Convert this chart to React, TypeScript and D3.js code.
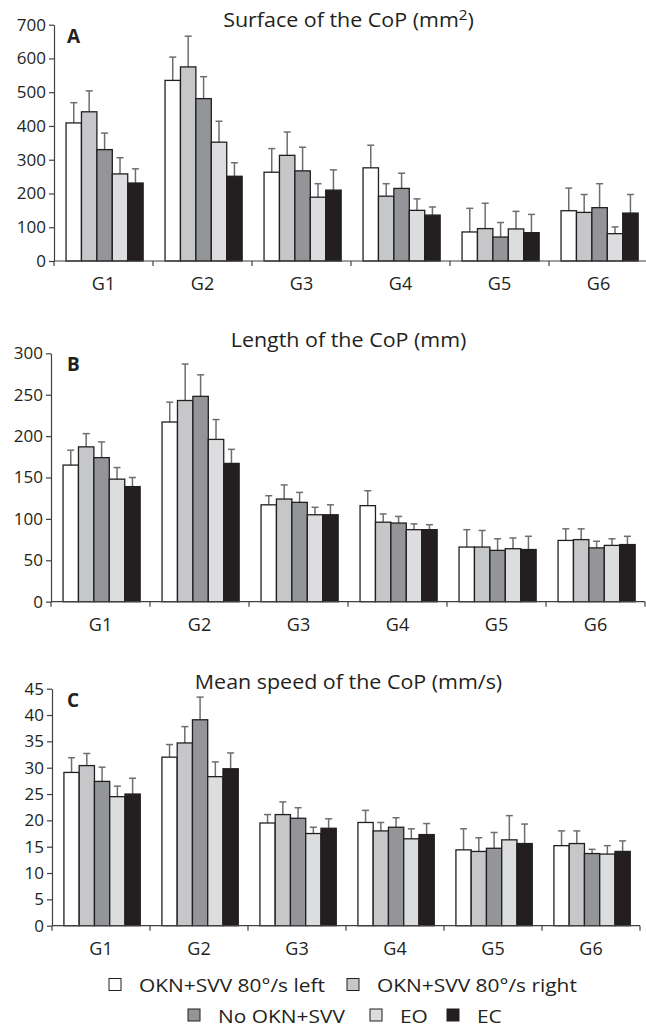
import React, { useRef, useEffect } from 'react';
import * as d3 from 'd3';

const GROUPS = ['G1', 'G2', 'G3', 'G4', 'G5', 'G6'];
const CONDITIONS = ['OKN+SVV 80°/s left', 'OKN+SVV 80°/s right', 'No OKN+SVV', 'EO', 'EC'];
const CONDITION_COLORS = ['#ffffff', '#c6c7c9', '#939598', '#dcddde', '#231f20'];

// rows = groups G1..G6, columns = conditions (left, right, no OKN, EO, EC)
const SURFACE_MEAN = [
  [409, 442, 330, 258, 231],
  [535, 575, 481, 352, 251],
  [263, 313, 267, 189, 210],
  [276, 192, 215, 150, 136],
  [86, 96, 71, 95, 84],
  [149, 144, 158, 81, 142],
];
const SURFACE_ERR = [
  [60, 62, 49, 48, 42],
  [69, 91, 65, 62, 40],
  [70, 69, 70, 40, 60],
  [67, 37, 45, 34, 24],
  [70, 75, 43, 52, 54],
  [67, 53, 71, 20, 55],
];
const SURFACE_TICKS = [0, 100, 200, 300, 400, 500, 600, 700];

const LENGTH_MEAN = [
  [165, 187, 174, 148, 139],
  [217, 243, 248, 196, 167],
  [117, 124, 120, 105, 105],
  [116, 96, 95, 87, 87],
  [66, 66, 62, 64, 63],
  [74, 75, 65, 68, 69],
];
const LENGTH_ERR = [
  [18, 16, 19, 14, 11],
  [24, 44, 26, 24, 17],
  [11, 17, 12, 9, 12],
  [18, 10, 8, 7, 6],
  [21, 20, 14, 13, 16],
  [14, 13, 8, 8, 10],
];
const LENGTH_TICKS = [0, 50, 100, 150, 200, 250, 300];

const SPEED_MEAN = [
  [29.1, 30.4, 27.4, 24.5, 25.0],
  [32.0, 34.7, 39.1, 28.3, 29.8],
  [19.5, 21.1, 20.4, 17.5, 18.5],
  [19.6, 18.0, 18.7, 16.5, 17.3],
  [14.4, 14.1, 14.7, 16.3, 15.6],
  [15.2, 15.6, 13.7, 13.6, 14.1],
];
const SPEED_ERR = [
  [2.8, 2.3, 2.7, 2.0, 3.0],
  [2.4, 3.1, 4.3, 2.8, 3.0],
  [1.6, 2.4, 2.0, 1.2, 1.8],
  [2.3, 1.6, 1.8, 1.9, 2.1],
  [4.0, 2.6, 3.0, 4.6, 3.7],
  [2.8, 2.4, 0.8, 1.6, 2.0],
];
const SPEED_TICKS = [0, 5, 10, 15, 20, 25, 30, 35, 40, 45];

const WIDTH = 646;
const HEIGHT = 1029;
const FONT = '"Open Sans", "Noto Sans", sans-serif';
const INK = '#231f20';
const AXIS = '#404041';
const STRETCH = 1.1; // the source font is set a bit wider than Open Sans

interface Panel {
  letter: string;
  title: string;
  unitSup?: string;
  mean: number[][];
  err: number[][];
  ticks: number[];
  x0: number;
  x1: number;
  yTop: number;
  yBot: number;
  titleY: number;
}

const PANELS: Panel[] = [
  { letter: 'A', title: 'Surface of the CoP (mm', unitSup: '2', mean: SURFACE_MEAN, err: SURFACE_ERR,
    ticks: SURFACE_TICKS, x0: 54, x1: 648, yTop: 24.7, yBot: 261, titleY: 27 },
  { letter: 'B', title: 'Length of the CoP (mm)', mean: LENGTH_MEAN, err: LENGTH_ERR,
    ticks: LENGTH_TICKS, x0: 51, x1: 645, yTop: 353.3, yBot: 601.7, titleY: 346.5 },
  { letter: 'C', title: 'Mean speed of the CoP (mm/s)', mean: SPEED_MEAN, err: SPEED_ERR,
    ticks: SPEED_TICKS, x0: 52, x1: 640, yTop: 688.7, yBot: 925.7, titleY: 689 },
];

type Sel = d3.Selection<SVGSVGElement, unknown, null, undefined>;

function drawPanel(svg: Sel, p: Panel) {
  const g = svg.append('g');
  const maxV = p.ticks[p.ticks.length - 1];

  const y = d3.scaleLinear().domain([0, maxV]).range([p.yBot, p.yTop]);
  const xg = d3.scaleBand<string>().domain(GROUPS).range([p.x0, p.x1]).padding(0);
  const xc = d3.scaleBand<string>()
    .domain(CONDITIONS)
    .range([0, xg.bandwidth()])
    .paddingInner(0)
    .paddingOuter(0.71)
    .align(0.55);

  // bars with upper error bars
  GROUPS.forEach((grp, gi) => {
    const gx = xg(grp)!;
    CONDITIONS.forEach((cond, ci) => {
      const v = p.mean[gi][ci];
      const bx = gx + xc(cond)!;
      const bw = xc.bandwidth();
      const cx = bx + bw / 2;
      const top = y(v + p.err[gi][ci]);

      g.append('line')
        .attr('x1', cx).attr('x2', cx)
        .attr('y1', y(v)).attr('y2', top)
        .attr('stroke', '#6d6e71')
        .attr('stroke-width', 1.5);
      g.append('line')
        .attr('x1', cx - 3.5).attr('x2', cx + 3.5)
        .attr('y1', top).attr('y2', top)
        .attr('stroke', '#6d6e71')
        .attr('stroke-width', 1.5);

      g.append('rect')
        .attr('x', bx)
        .attr('y', y(v))
        .attr('width', bw)
        .attr('height', p.yBot - y(v))
        .attr('fill', CONDITION_COLORS[ci])
        .attr('stroke', INK)
        .attr('stroke-width', 1.3);
    });
  });

  // y axis
  const yAxis = g.append('g')
    .attr('transform', `translate(${p.x0},0)`)
    .call(d3.axisLeft(y).tickValues(p.ticks).tickSize(5).tickSizeOuter(0).tickPadding(3));
  yAxis.select('.domain').attr('stroke', AXIS).attr('stroke-width', 1.2);
  yAxis.selectAll('.tick line').attr('stroke', AXIS).attr('stroke-width', 1.2);
  yAxis.selectAll('.tick text')
    .attr('font-family', FONT)
    .attr('font-size', 17)
    .attr('fill', INK);

  // x axis: ticks on group boundaries, labels in the middle
  g.append('line')
    .attr('x1', p.x0).attr('x2', p.x1)
    .attr('y1', p.yBot).attr('y2', p.yBot)
    .attr('stroke', AXIS)
    .attr('stroke-width', 1.2);
  d3.range(GROUPS.length + 1).forEach((i) => {
    const tx = p.x0 + i * xg.step();
    g.append('line')
      .attr('x1', tx).attr('x2', tx)
      .attr('y1', p.yBot).attr('y2', p.yBot + 5)
      .attr('stroke', AXIS)
      .attr('stroke-width', 1.2);
  });
  GROUPS.forEach((grp) => {
    g.append('text')
      .attr('x', xg(grp)! + xg.bandwidth() / 2)
      .attr('y', p.yBot + 29)
      .attr('text-anchor', 'middle')
      .attr('font-family', FONT)
      .attr('font-size', 18)
      .attr('fill', INK)
      .text(grp);
  });

  // title
  const t = g.append('text')
    .attr('transform', `translate(348.5,${p.titleY}) scale(${STRETCH},1)`)
    .attr('text-anchor', 'middle')
    .attr('font-family', FONT)
    .attr('font-size', 19.5)
    .attr('fill', INK)
    .text(p.title);
  if (p.unitSup) {
    t.append('tspan').attr('font-size', 14).attr('dy', -7).text(p.unitSup);
    t.append('tspan').attr('dy', 7).text(')');
  }

  // panel letter
  g.append('text')
    .attr('x', 67)
    .attr('y', p.yTop + 18)
    .attr('font-family', FONT)
    .attr('font-size', 19)
    .attr('font-weight', 700)
    .attr('fill', INK)
    .text(p.letter);
}

function drawLegend(svg: Sel) {
  // [condition index, square x, row baseline]
  const items: [number, number, number][] = [
    [0, 109, 992],
    [1, 347, 992],
    [2, 188, 1022.5],
    [3, 370, 1022.5],
    [4, 447, 1022.5],
  ];
  const lg = svg.append('g');
  items.forEach(([ci, sx, base]) => {
    lg.append('rect')
      .attr('x', sx)
      .attr('y', base - 13.5)
      .attr('width', 12)
      .attr('height', 12)
      .attr('fill', CONDITION_COLORS[ci])
      .attr('stroke', INK)
      .attr('stroke-width', 1);
    lg.append('text')
      .attr('transform', `translate(${sx + 30},${base}) scale(${STRETCH},1)`)
      .attr('font-family', FONT)
      .attr('font-size', 19)
      .attr('fill', INK)
      .text(CONDITIONS[ci]);
  });
}

export default function App() {
  const svgRef = useRef<SVGSVGElement>(null);

  useEffect(() => {
    if (!svgRef.current) return;
    const svg = d3.select(svgRef.current);
    svg.selectAll('*').remove();

    svg.append('rect').attr('width', WIDTH).attr('height', HEIGHT).attr('fill', '#ffffff');
    PANELS.forEach((p) => drawPanel(svg, p));
    drawLegend(svg);
  }, []);

  return (
    <svg
      ref={svgRef}
      width={WIDTH}
      height={HEIGHT}
      style={{ position: 'absolute', left: 0, top: 0 }}
    />
  );
}
